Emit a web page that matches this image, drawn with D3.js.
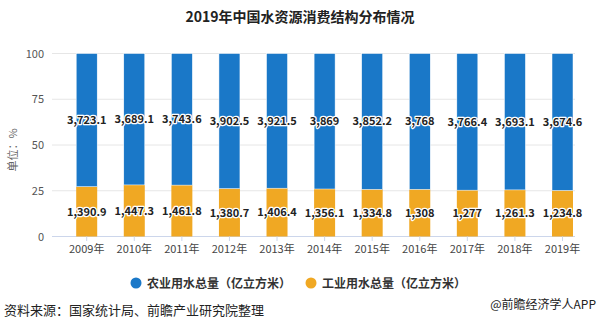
<!DOCTYPE html>
<html>
<head>
<meta charset="utf-8">
<script src="https://cdn.jsdelivr.net/npm/d3@7"></script>
<style>
body { margin: 0; background: #fff; }
text { font-family: "Microsoft YaHei", "Noto Sans CJK SC", sans-serif; }
</style>
</head>
<body>
<div id="chart"></div>
<script>
// years and the two series (亿立方米)
var years = ["2009年", "2010年", "2011年", "2012年", "2013年", "2014年", "2015年", "2016年", "2017年", "2018年", "2019年"];
var agri = [3723.1, 3689.1, 3743.6, 3902.5, 3921.5, 3869, 3852.2, 3768, 3766.4, 3693.1, 3674.6];
var indus = [1390.9, 1447.3, 1461.8, 1380.7, 1406.4, 1356.1, 1334.8, 1308, 1277, 1261.3, 1234.8];
var seriesNames = ["农业用水总量（亿立方米）", "工业用水总量（亿立方米）"];
var yTicks = [0, 25, 50, 75, 100];

var width = 600, height = 332;
var color = ["#1a78c8", "#f0a823"];

var svg = d3.select('#chart')
     .append('svg')
     .attr('width', width)
     .attr('height', height);

// title
svg.append('text')
     .attr('x', 300).attr('y', 22)
     .attr('text-anchor', 'middle')
     .style('font-size', '14px')
     .style('font-weight', 'bold')
     .attr('fill', '#222')
     .text('2019年中国水资源消费结构分布情况');

var x = d3.scalePoint()
     .domain(years)
     .range([86.7, 562.5]);
var barW = 21;

var y = d3.scaleLinear()
     .domain([0, 100])
     .range([236.5, 53.5]);

// gridlines + y labels
var grid = svg.append('g');
grid.selectAll('line')
     .data(yTicks)
     .enter()
     .append('line')
     .attr('x1', 52).attr('x2', 575)
     .attr('y1', function (d) { return y(d); })
     .attr('y2', function (d) { return y(d); })
     .attr('stroke', function (d) { return d === 0 ? '#ccd6eb' : '#e6e6e6'; })
     .attr('stroke-width', 1);
grid.selectAll('text')
     .data(yTicks)
     .enter()
     .append('text')
     .attr('x', 44)
     .attr('y', function (d) { return y(d) + 4; })
     .attr('text-anchor', 'end')
     .style('font-size', '11px')
     .attr('fill', '#555')
     .text(function (d) { return d; });

svg.append('text')
     .attr('transform', 'translate(17,' + 150 + ') rotate(-90)')
     .attr('text-anchor', 'middle')
     .style('font-size', '11px')
     .attr('fill', '#666')
     .text('单位：%');

// stacked percent data
var rows = years.map(function (yr, i) {
     var tot = agri[i] + indus[i];
     return { year: yr, a: agri[i], b: indus[i], pa: agri[i] / tot * 100, pb: indus[i] / tot * 100 };
});

var fmt = d3.format(',');

var bars = svg.selectAll('.bar')
     .data(rows)
     .enter()
     .append('g')
     .attr('class', 'bar');

// industrial at the bottom
bars.append('rect')
     .attr('x', function (d) { return x(d.year) - barW / 2; })
     .attr('width', barW)
     .attr('y', function (d) { return y(d.pb); })
     .attr('height', function (d) { return y(0) - y(d.pb); })
     .attr('fill', color[1]);
// agricultural on top
bars.append('rect')
     .attr('x', function (d) { return x(d.year) - barW / 2; })
     .attr('width', barW)
     .attr('y', y(100))
     .attr('height', function (d) { return y(d.pb) - y(100); })
     .attr('fill', color[0])
     .attr('stroke', '#fff')
     .attr('stroke-width', 0.5);

function label(sel, yf, tf) {
     sel.append('text')
          .attr('x', function (d) { return x(d.year); })
          .attr('y', yf)
          .attr('text-anchor', 'middle')
          .style('font-size', '11px')
          .style('font-weight', 'bold')
          .attr('fill', '#222')
          .attr('stroke', '#fff')
          .attr('stroke-width', 2.5)
          .attr('paint-order', 'stroke')
          .attr('stroke-linejoin', 'round')
          .text(tf);
}
label(bars, function (d) { return y(d.pb + d.pa / 2) + 4; }, function (d) { return fmt(d.a); });
label(bars, function (d) { return y(d.pb / 2) + 4; }, function (d) { return fmt(d.b); });

// x axis ticks + labels
var xa = svg.append('g');
xa.selectAll('line')
     .data(years)
     .enter()
     .append('line')
     .attr('x1', function (d) { return x(d); })
     .attr('x2', function (d) { return x(d); })
     .attr('y1', 236.5).attr('y2', 241)
     .attr('stroke', '#ccd6eb');
xa.selectAll('text')
     .data(years)
     .enter()
     .append('text')
     .attr('x', function (d) { return x(d); })
     .attr('y', 253)
     .attr('text-anchor', 'middle')
     .style('font-size', '11px')
     .attr('fill', '#444')
     .text(function (d) { return d; });

// legend
var legX = [136, 311];
var legend = svg.selectAll('.legend')
     .data(seriesNames)
     .enter()
     .append('g')
     .attr('class', 'legend')
     .attr('transform', function (d, i) { return 'translate(' + legX[i] + ',283)'; });
legend.append('circle')
     .attr('r', 5.5)
     .attr('fill', function (d, i) { return color[i]; });
legend.append('text')
     .attr('x', 11)
     .attr('y', 4.5)
     .style('font-size', '12px')
     .style('font-weight', 'bold')
     .attr('fill', '#333')
     .text(function (d) { return d; });

// footer
svg.append('text')
     .attr('x', 4).attr('y', 315)
     .style('font-size', '13px')
     .attr('fill', '#222')
     .text('资料来源：国家统计局、前瞻产业研究院整理');
svg.append('text')
     .attr('x', 596).attr('y', 309)
     .attr('text-anchor', 'end')
     .style('font-size', '12px')
     .attr('fill', '#222')
     .text('@前瞻经济学人APP');
</script>
</body>
</html>
